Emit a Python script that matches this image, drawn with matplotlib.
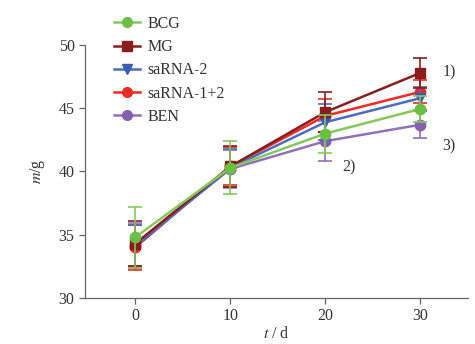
import matplotlib

matplotlib.use("Agg")
import matplotlib.pyplot as plt
from matplotlib.lines import Line2D

plt.rcParams["font.family"] = ["Liberation Serif", "DejaVu Serif"]
plt.rcParams["mathtext.fontset"] = "stix"

DAYS = [0, 10, 20, 30]

GROUPS = ["BCG", "MG", "saRNA-2", "saRNA-1+2", "BEN"]
BCG = [34.8, 40.3, 43.0, 44.95]
MG = [34.3, 40.4, 44.7, 47.8]
SARNA_2 = [34.1, 40.3, 43.9, 45.8]
SARNA_12 = [34.0, 40.4, 44.4, 46.3]
BEN = [34.2, 40.2, 42.4, 43.7]

BCG_ERR = [2.4, 2.1, 1.5, 1.0]
MG_ERR = [1.8, 1.6, 1.6, 1.2]
SARNA_2_ERR = [1.7, 1.5, 1.4, 0.9]
SARNA_12_ERR = [1.8, 1.5, 1.3, 0.9]
BEN_ERR = [1.7, 1.5, 1.6, 1.05]

STYLES = {
    "BCG": ("#86c95a", "#6cbf45", "o"),
    "MG": ("#8b1c1c", "#8b1c1c", "s"),
    "saRNA-2": ("#4a6cc2", "#3b5bb5", "v"),
    "saRNA-1+2": ("#ee2a24", "#ee2a24", "o"),
    "BEN": ("#9271bb", "#8560b0", "o"),
}
ZORDERS = {"BCG": 7, "MG": 6, "saRNA-2": 5, "saRNA-1+2": 4, "BEN": 3}

series = {
    "BCG": (BCG, BCG_ERR),
    "MG": (MG, MG_ERR),
    "saRNA-2": (SARNA_2, SARNA_2_ERR),
    "saRNA-1+2": (SARNA_12, SARNA_12_ERR),
    "BEN": (BEN, BEN_ERR),
}

TEXT_COLOR = "#333333"
AXIS_COLOR = "#666666"

fig = plt.figure(figsize=(4.75, 3.44), dpi=100)
ax = fig.add_axes([0.179, 0.134, 0.806, 0.735])

handles = []
for name in GROUPS:
    values, errs = series[name]
    line_color, marker_color, marker = STYLES[name]
    ax.errorbar(
        DAYS,
        values,
        yerr=errs,
        color=line_color,
        ecolor=line_color,
        marker=marker,
        markersize=7.5,
        markerfacecolor=marker_color,
        markeredgecolor=marker_color,
        linewidth=1.8,
        elinewidth=1.2,
        capsize=5,
        capthick=1.2,
        zorder=ZORDERS[name],
    )
    handles.append(
        Line2D(
            [],
            [],
            color=line_color,
            marker=marker,
            markersize=7,
            markerfacecolor=marker_color,
            markeredgecolor=marker_color,
            linewidth=1.8,
        )
    )

ax.text(32.3, 47.8, "1)", fontsize=11.5, va="center", ha="left", color=TEXT_COLOR)
ax.text(21.8, 40.3, "2)", fontsize=11.5, va="center", ha="left", color=TEXT_COLOR)
ax.text(32.3, 42.0, "3)", fontsize=11.5, va="center", ha="left", color=TEXT_COLOR)

ax.set_xlim(-5.3, 35)
ax.set_ylim(30, 50)
ax.set_xticks(DAYS)
ax.set_yticks([30, 35, 40, 45, 50])
ax.spines["top"].set_visible(False)
ax.spines["right"].set_visible(False)
for side in ("left", "bottom"):
    ax.spines[side].set_color(AXIS_COLOR)
    ax.spines[side].set_linewidth(0.9)
ax.tick_params(colors=AXIS_COLOR, labelcolor=TEXT_COLOR, labelsize=11.5, length=4, width=0.9)
ax.set_xlabel("$t$ / d", fontsize=11.5, color=TEXT_COLOR, labelpad=1)
ax.set_ylabel("$m$/g", fontsize=11.5, color=TEXT_COLOR, labelpad=8)

leg = ax.legend(
    handles=handles,
    labels=GROUPS,
    loc="upper left",
    bbox_to_anchor=(0.06, 1.14),
    frameon=False,
    fontsize=11.5,
    handlelength=1.6,
    handletextpad=0.45,
    labelspacing=0.45,
    borderaxespad=0.0,
)
for text in leg.get_texts():
    text.set_color(TEXT_COLOR)
leg.set_zorder(10)

fig.savefig("out.png", dpi=100)
